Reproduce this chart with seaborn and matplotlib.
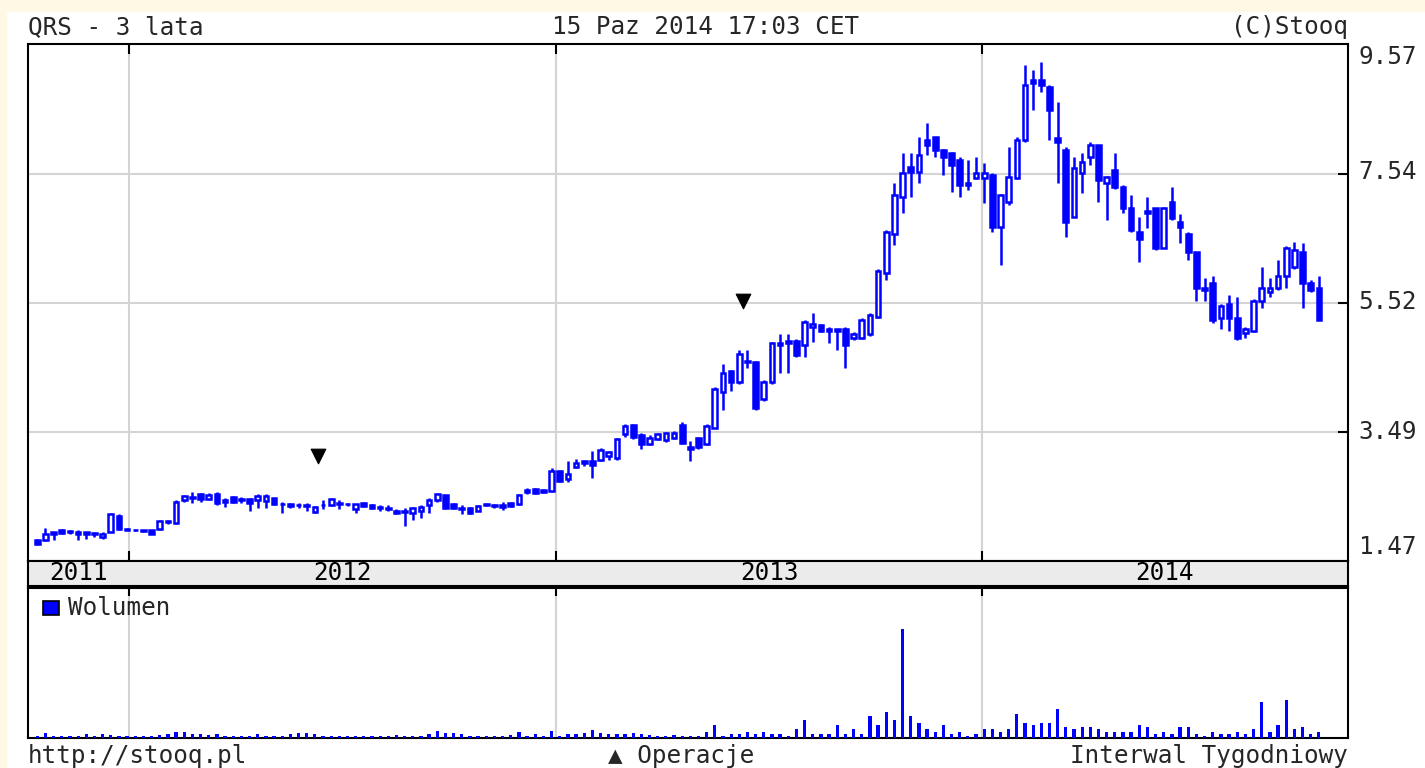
import numpy as np
import pandas as pd
import matplotlib
matplotlib.use("Agg")
import matplotlib.pyplot as plt
import matplotlib.dates as mdates
import matplotlib.transforms as mtransforms
from matplotlib.patches import Rectangle
import seaborn as sns

# weekly candles for QRS, 2011-10-14 .. 2014-10-17
open_ = [1.80, 1.80, 1.90, 1.96, 1.92, 1.93, 1.92, 1.91, 1.84, 1.93,
         2.18, 1.97, 1.96, 1.95, 1.95, 1.97, 2.10, 2.06, 2.42, 2.48,
         2.52, 2.44, 2.52, 2.40, 2.47, 2.42, 2.44, 2.42, 2.41, 2.45,
         2.37, 2.36, 2.34, 2.35, 2.24, 2.34, 2.35, 2.38, 2.36, 2.28,
         2.38, 2.34, 2.31, 2.30, 2.26, 2.25, 2.22, 2.26, 2.34, 2.42,
         2.50, 2.36, 2.30, 2.30, 2.26, 2.36, 2.35, 2.34, 2.38, 2.36,
         2.55, 2.60, 2.55, 2.57, 2.88, 2.75, 2.95, 3.00, 3.04, 3.06,
         3.12, 3.08, 3.46, 3.60, 3.45, 3.30, 3.38, 3.36, 3.40, 3.60,
         3.25, 3.40, 3.31, 3.56, 4.11, 4.45, 4.27, 4.58, 4.58, 4.01,
         4.27, 4.85, 4.88, 4.92, 4.85, 5.13, 5.16, 5.08, 5.10, 5.11,
         4.96, 4.97, 5.03, 5.29, 5.99, 6.60, 7.17, 7.64, 7.56, 8.06,
         8.11, 7.91, 7.86, 7.75, 7.36, 7.47, 7.47, 7.51, 6.70, 7.09,
         7.47, 8.06, 9.00, 9.00, 8.90, 8.09, 7.91, 6.86, 7.55, 7.80,
         7.99, 7.40, 7.59, 7.33, 7.00, 6.62, 6.96, 7.00, 6.37, 7.09,
         6.78, 6.60, 6.31, 5.74, 5.83, 5.27, 5.50, 5.28, 5.04, 5.08,
         5.55, 5.68, 5.74, 5.94, 6.07, 6.31, 5.83, 5.74]
high = [1.82, 1.99, 1.93, 1.97, 1.96, 1.95, 1.93, 1.93, 1.93, 2.22,
        2.20, 1.99, 1.97, 1.96, 1.96, 2.11, 2.12, 2.42, 2.51, 2.55,
        2.54, 2.53, 2.55, 2.45, 2.49, 2.47, 2.46, 2.52, 2.52, 2.46,
        2.40, 2.38, 2.38, 2.38, 2.33, 2.42, 2.45, 2.42, 2.38, 2.37,
        2.39, 2.36, 2.35, 2.35, 2.28, 2.30, 2.32, 2.34, 2.45, 2.53,
        2.51, 2.38, 2.34, 2.31, 2.35, 2.38, 2.37, 2.40, 2.40, 2.52,
        2.62, 2.61, 2.60, 2.93, 2.90, 3.03, 3.07, 3.06, 3.20, 3.24,
        3.20, 3.40, 3.62, 3.62, 3.47, 3.45, 3.48, 3.49, 3.50, 3.65,
        3.35, 3.42, 3.62, 4.20, 4.56, 4.47, 4.77, 4.77, 4.61, 4.30,
        4.90, 5.03, 5.03, 4.95, 5.24, 5.35, 5.19, 5.13, 5.11, 5.13,
        5.06, 5.28, 5.35, 6.05, 6.65, 7.39, 7.86, 7.86, 8.11, 8.33,
        8.12, 7.93, 7.88, 7.80, 7.75, 7.80, 7.70, 7.55, 7.22, 7.95,
        8.11, 9.24, 9.16, 9.29, 8.93, 8.66, 7.95, 7.80, 7.86, 8.03,
        7.99, 7.50, 7.86, 7.36, 7.20, 6.86, 7.17, 7.00, 7.02, 7.33,
        6.90, 6.62, 6.31, 5.91, 5.94, 5.50, 5.63, 5.60, 5.13, 5.58,
        6.07, 5.91, 6.18, 6.40, 6.47, 6.46, 5.87, 5.94]
low = [1.72, 1.79, 1.80, 1.90, 1.90, 1.80, 1.82, 1.84, 1.82, 1.92,
       1.95, 1.95, 1.94, 1.93, 1.89, 1.96, 2.05, 2.05, 2.40, 2.38,
       2.40, 2.42, 2.35, 2.32, 2.38, 2.38, 2.25, 2.30, 2.30, 2.34,
       2.22, 2.30, 2.30, 2.25, 2.22, 2.28, 2.33, 2.28, 2.33, 2.22,
       2.32, 2.28, 2.25, 2.25, 2.20, 2.02, 2.12, 2.15, 2.22, 2.40,
       2.28, 2.28, 2.20, 2.20, 2.25, 2.33, 2.30, 2.27, 2.32, 2.35,
       2.52, 2.52, 2.53, 2.55, 2.70, 2.70, 2.93, 2.96, 2.77, 3.04,
       3.06, 3.06, 3.42, 3.38, 3.22, 3.28, 3.36, 3.34, 3.38, 3.30,
       3.04, 3.23, 3.28, 3.55, 3.83, 4.14, 4.25, 4.50, 3.84, 3.98,
       4.25, 4.42, 4.42, 4.67, 4.66, 4.90, 5.05, 4.88, 4.77, 4.50,
       4.94, 4.95, 5.00, 5.27, 5.87, 6.42, 6.92, 7.17, 7.40, 7.83,
       7.80, 7.51, 7.25, 7.17, 7.28, 7.45, 7.08, 6.62, 6.10, 7.05,
       7.45, 8.04, 8.53, 8.82, 8.06, 7.39, 6.54, 6.86, 7.23, 7.67,
       7.09, 6.81, 7.30, 6.92, 6.62, 6.15, 6.68, 6.34, 6.37, 6.81,
       6.45, 6.18, 5.55, 5.55, 5.20, 5.11, 5.08, 4.94, 4.96, 5.05,
       5.44, 5.60, 5.72, 5.74, 6.05, 5.43, 5.68, 5.24]
close = [1.74, 1.90, 1.92, 1.91, 1.94, 1.90, 1.90, 1.90, 1.90, 2.20,
         1.97, 1.96, 1.95, 1.94, 1.90, 2.10, 2.08, 2.40, 2.49, 2.46,
         2.44, 2.51, 2.38, 2.43, 2.40, 2.44, 2.38, 2.49, 2.49, 2.37,
         2.36, 2.33, 2.35, 2.33, 2.32, 2.35, 2.44, 2.37, 2.36, 2.36,
         2.33, 2.30, 2.30, 2.29, 2.22, 2.23, 2.30, 2.32, 2.42, 2.52,
         2.30, 2.30, 2.28, 2.22, 2.33, 2.35, 2.33, 2.32, 2.33, 2.51,
         2.58, 2.54, 2.58, 2.88, 2.73, 2.84, 3.01, 3.03, 2.97, 3.21,
         3.18, 3.38, 3.58, 3.42, 3.30, 3.40, 3.46, 3.48, 3.48, 3.32,
         3.22, 3.25, 3.59, 4.17, 4.42, 4.27, 4.72, 4.61, 3.86, 4.27,
         4.88, 4.88, 4.92, 4.69, 5.21, 5.19, 5.08, 5.10, 5.08, 4.85,
         5.03, 5.24, 5.32, 6.02, 6.62, 7.20, 7.55, 7.56, 7.83, 7.99,
         7.91, 7.80, 7.67, 7.36, 7.40, 7.55, 7.55, 6.70, 7.20, 7.48,
         8.06, 8.93, 8.96, 8.93, 8.53, 8.03, 6.78, 7.62, 7.72, 7.99,
         7.44, 7.48, 7.33, 7.00, 6.65, 6.52, 6.92, 6.37, 7.00, 6.84,
         6.70, 6.31, 5.74, 5.72, 5.24, 5.47, 5.28, 4.96, 5.11, 5.55,
         5.74, 5.74, 5.94, 6.38, 6.34, 5.82, 5.71, 5.24]
volume = [6, 14, 6, 6, 6, 6, 12, 6, 12, 10,
          6, 6, 6, 6, 6, 10, 12, 18, 18, 12,
          12, 10, 12, 6, 6, 6, 6, 12, 6, 6,
          6, 12, 14, 14, 12, 6, 6, 6, 6, 6,
          6, 6, 6, 6, 10, 6, 6, 6, 12, 20,
          14, 14, 12, 6, 6, 6, 6, 6, 10, 18,
          6, 12, 6, 20, 6, 12, 12, 14, 22, 14,
          12, 12, 12, 14, 12, 10, 6, 6, 8, 6,
          6, 6, 18, 38, 6, 11, 11, 18, 11, 18,
          11, 11, 6, 25, 51, 11, 11, 11, 38, 11,
          25, 11, 63, 38, 76, 51, 315, 63, 43, 25,
          18, 38, 11, 18, 6, 11, 25, 25, 18, 25,
          70, 43, 38, 43, 43, 83, 31, 25, 31, 31,
          25, 18, 18, 18, 18, 38, 31, 11, 18, 11,
          31, 31, 11, 6, 18, 11, 11, 18, 11, 25,
          103, 18, 38, 109, 25, 31, 11, 18]
op_dates = ["2012-06-11", "2013-06-10"]
price_labels = [9.57, 7.54, 5.52, 3.49, 1.47]
years = [2011, 2012, 2013, 2014]

BLUE = "#0000FF"
CREAM = "#FFF8E4"
W, H = 1425, 768

sns.set_theme(style="white")
plt.rcParams["font.family"] = ["DejaVu Sans Mono", "DejaVu Sans"]
FS = 17.5

df = pd.DataFrame({
    "date": pd.date_range("2011-10-14", periods=len(close), freq="7D"),
    "open": open_, "high": high, "low": low, "close": close, "volume": volume,
})
df["x"] = mdates.date2num(df["date"])
up = df[df["close"] >= df["open"]]
down = df[df["close"] < df["open"]]

jan1 = [mdates.date2num(pd.Timestamp(f"{y}-01-01")) for y in years[1:]]
x_left = mdates.date2num(pd.Timestamp("2011-10-06"))
x_right = mdates.date2num(pd.Timestamp("2014-11-11"))


def frame(px_left, px_top, px_right, px_bottom):
    return [px_left / W, 1 - px_bottom / H, (px_right - px_left) / W, (px_bottom - px_top) / H]


fig = plt.figure(figsize=(W / 100, H / 100), dpi=100)
fig.patch.set_facecolor("white")
fig.patches.append(Rectangle((0, 0), 6 / W, 1, transform=fig.transFigure, color=CREAM, zorder=0))
fig.patches.append(Rectangle((0, 1 - 11 / H), 1, 11 / H, transform=fig.transFigure, color=CREAM, zorder=0))

ax = fig.add_axes(frame(28, 44, 1348, 561))
band = fig.add_axes(frame(28, 561, 1348, 586))
vol = fig.add_axes(frame(28, 588, 1348, 738))

# price candles
ax.vlines(df["x"], df["low"], df["high"], color=BLUE, lw=1.8, zorder=2)
ax.bar(up["x"], up["close"] - up["open"], bottom=up["open"], width=4.0,
       color="white", edgecolor=BLUE, linewidth=1.8, zorder=3)
ax.bar(down["x"], down["open"] - down["close"], bottom=down["close"], width=4.0,
       color=BLUE, edgecolor=BLUE, linewidth=1.8, zorder=3)

# operations markers, just above the candle of that week
ops = pd.DataFrame({"date": pd.to_datetime(op_dates)})
ops["x"] = mdates.date2num(ops["date"])
ops["y"] = [df.loc[(df["x"] - x).abs().idxmin(), "high"] + 0.78 for x in ops["x"]]
sns.scatterplot(data=ops, x="x", y="y", marker="v", s=110, color="black",
                edgecolor="black", ax=ax, zorder=4)

ax.set_xlim(x_left, x_right)
ax.set_ylim(1.47, 9.57)
ax.set_xticks(jan1)
ax.set_yticks(price_labels[1:4])
ax.grid(True, color="#D4D4D4", lw=1.5)
ax.set_axisbelow(True)
ax.tick_params(axis="x", direction="in", length=7, width=1.5, color="black",
               top=True, bottom=True, labelbottom=False)
ax.tick_params(axis="y", direction="in", length=7, width=1.5, color="black",
               right=True, left=False, labelleft=False)
ax.set_xlabel("")
ax.set_ylabel("")

# volume
sns.barplot(data=df, x="x", y="volume", native_scale=True, width=0.4,
            color=BLUE, saturation=1, errorbar=None, linewidth=0, ax=vol, zorder=3)
vol.set_xlim(x_left, x_right)
vol.set_ylim(0, 432)
vol.set_xticks(jan1)
vol.set_yticks([])
vol.grid(True, axis="x", color="#D4D4D4", lw=1.5)
vol.set_axisbelow(True)
vol.tick_params(axis="x", direction="in", length=6, width=1.5, color="black",
                top=True, bottom=False, labelbottom=False)
vol.set_xlabel("")
vol.set_ylabel("")

# year band
band.set_facecolor("#EBEBEB")
band.set_xlim(x_left, x_right)
band.set_ylim(0, 1)
band.set_xticks([])
band.set_yticks([])
edges = [x_left] + jan1 + [x_right]
btrans = mtransforms.blended_transform_factory(band.transData, band.transAxes)
for y, a, b in zip(years, edges[:-1], edges[1:]):
    band.text((a + b) / 2, 0.5, str(y), transform=btrans, ha="center", va="center",
              fontsize=FS, color="black")

for a in (ax, band, vol):
    for s in a.spines.values():
        s.set_color("black")
        s.set_linewidth(1.5)

# right side price labels
label_px = [57, 172, 302, 432, 547]
for v, py in zip(price_labels, label_px):
    fig.text(1358 / W, 1 - py / H, f"{v:.2f}", ha="left", va="center", fontsize=FS)

# legend in volume panel
fig.patches.append(Rectangle((43 / W, 1 - 615 / H), 16 / W, 14 / H, transform=fig.transFigure,
                             facecolor=BLUE, edgecolor="black", lw=1.2, zorder=5))
fig.text(68 / W, 1 - 608 / H, "Wolumen", ha="left", va="center", fontsize=FS)

# header and footer texts
fig.text(28 / W, 1 - 27 / H, "QRS - 3 lata", ha="left", va="center", fontsize=FS)
fig.text(706 / W, 1 - 27 / H, "15 Paz 2014 17:03 CET", ha="center", va="center", fontsize=FS)
fig.text(1348 / W, 1 - 27 / H, "(C)Stooq", ha="right", va="center", fontsize=FS)
fig.text(28 / W, 1 - 756 / H, "http://stooq.pl", ha="left", va="center", fontsize=FS)
fig.text(681 / W, 1 - 756 / H, "▲ Operacje", ha="center", va="center", fontsize=FS)
fig.text(1348 / W, 1 - 756 / H, "Interwal Tygodniowy", ha="right", va="center", fontsize=FS)

fig.savefig("out.png", dpi=100, facecolor=fig.get_facecolor())
